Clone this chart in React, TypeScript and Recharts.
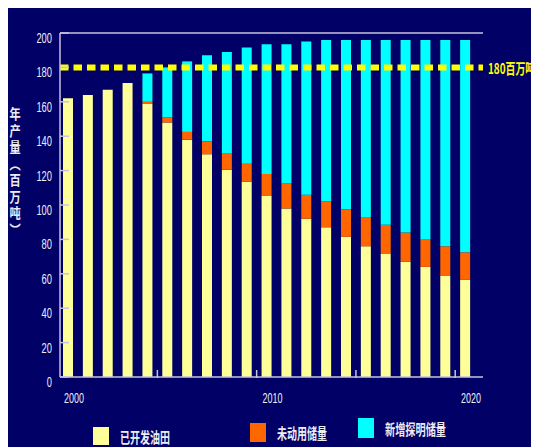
import { BarChart, Bar, XAxis, YAxis, ReferenceLine } from "recharts";

// Annual output, 2000-2020 (million tonnes), split by source
const years = [
	"2000", "2001", "2002", "2003", "2004", "2005", "2006", "2007", "2008", "2009", "2010",
	"2011", "2012", "2013", "2014", "2015", "2016", "2017", "2018", "2019", "2020",
];
const developed = [
	162, 164, 167, 171, 159, 148, 138, 129.5, 120.5, 113.5, 105.5,
	98, 92, 87, 81.5, 76, 71.5, 67, 64, 59, 56.5,
];
const undeveloped = [
	0, 0, 0, 0, 1, 3, 4.5, 7.5, 9.5, 10.5, 12.5,
	14.5, 14, 15, 16, 17, 17, 17, 16, 17, 16,
];
const newReserves = [
	0, 0, 0, 0, 16.5, 29, 41, 50, 59, 67.5, 75.5,
	81, 89, 94, 98.5, 103, 107.5, 112, 116, 120, 123.5,
];
const yTicks = [0, 20, 40, 60, 80, 100, 120, 140, 160, 180, 200];
const labeledYears = ["2000", "2010", "2020"];
const target = 180;
const targetLabel = "180百万吨";
const yTitle = "年产量（百万吨）";
const seriesNames = ["已开发油田", "未动用储量", "新增探明储量"];

const NAVY = "#000066";
const AXIS = "#c4c4dc";
const TEXT = "#ececf4";
const YELLOW = "#ffff99";
const ORANGE = "#ff6600";
const CYAN = "#00ffff";

const numFont = '"Liberation Sans", Arial, sans-serif';
const cjkFont = '"Noto Sans CJK SC", "Noto Sans", sans-serif';

const data = years.map((year, i) => ({
	year,
	developed: developed[i],
	undeveloped: undeveloped[i],
	newReserves: newReserves[i],
}));

function YTick(props: any) {
	const { x, y, payload } = props;
	const label = String(payload.value);
	return (
		<g>
			<line x1={x} x2={x + 9} y1={y} y2={y} stroke={AXIS} strokeWidth={1.5} />
			<text
				x={x - 8}
				y={y + 5}
				textAnchor="end"
				dominantBaseline="central"
				fill={TEXT}
				fontFamily={numFont}
				fontSize={14}
				textLength={label.length * 5.2}
				lengthAdjust="spacingAndGlyphs"
			>
				{label}
			</text>
		</g>
	);
}

function XTick(props: any) {
	const { x, y, payload, index } = props;
	const label = String(payload.value);
	return (
		<g>
			{index % 5 === 4 && (
				<line x1={x + 10} x2={x + 10} y1={y - 7} y2={y + 1} stroke={AXIS} strokeWidth={1.5} />
			)}
			{labeledYears.includes(label) && (
				<text
					x={x + 6}
					y={y + 21}
					textAnchor="middle"
					dominantBaseline="central"
					fill={TEXT}
					fontFamily={numFont}
					fontSize={14}
					textLength={20}
					lengthAdjust="spacingAndGlyphs"
				>
					{label}
				</text>
			)}
		</g>
	);
}

// narrow label to the right of the dashed target line
function TargetLabel(props: any) {
	const { viewBox } = props;
	const x = viewBox.x + viewBox.width + 5;
	return (
		<g transform={`translate(${x}, ${viewBox.y}) scale(0.66, 1)`}>
			<text
				x={0}
				y={0}
				dominantBaseline="central"
				fill="#ffff00"
				fontFamily={cjkFont}
				fontWeight="bold"
				fontSize={15}
			>
				{targetLabel}
			</text>
		</g>
	);
}

const legendItems = [
	{ name: seriesNames[0], color: YELLOW, x: 85, y: 419, h: 18, len: 50 },
	{ name: seriesNames[1], color: ORANGE, x: 242, y: 415, h: 19, len: 50 },
	{ name: seriesNames[2], color: CYAN, x: 350, y: 410, h: 20, len: 61 },
];

export default function App() {
	return (
		<div style={{ position: "relative", width: 531, height: 439, background: NAVY, overflow: "hidden" }}>
			<style>{"body { overflow: hidden; }"}</style>
			<BarChart
				width={531}
				height={439}
				data={data}
				barSize={10}
				margin={{ top: 25, right: 56, bottom: 40, left: 0 }}
			>
				<XAxis
					dataKey="year"
					height={30}
					interval={0}
					padding={{ left: -2, right: 8 }}
					axisLine={{ stroke: AXIS, strokeWidth: 1.5 }}
					tickLine={false}
					tickSize={0}
					tickMargin={0}
					tick={(p: any) => <XTick {...p} />}
				/>
				<YAxis
					domain={[0, 200]}
					ticks={yTicks}
					interval={0}
					width={52}
					axisLine={{ stroke: AXIS, strokeWidth: 1.5 }}
					tickLine={false}
					tickSize={0}
					tickMargin={0}
					tick={(p: any) => <YTick {...p} />}
				/>
				<YAxis
					yAxisId="frame"
					orientation="right"
					domain={[0, 200]}
					width={0}
					tick={false}
					tickLine={false}
					axisLine={{ stroke: AXIS, strokeWidth: 1.5 }}
				/>
				<Bar dataKey="developed" stackId="a" fill={YELLOW} isAnimationActive={false} />
				<Bar dataKey="undeveloped" stackId="a" fill={ORANGE} isAnimationActive={false} />
				<Bar dataKey="newReserves" stackId="a" fill={CYAN} isAnimationActive={false} />
				<ReferenceLine y={200} stroke={AXIS} strokeWidth={1.5} />
				<ReferenceLine
					y={target}
					stroke="#ffff00"
					strokeWidth={6}
					strokeDasharray="8.5 5"
					label={(p: any) => <TargetLabel {...p} />}
				/>
			</BarChart>

			{/* vertical axis title, characters stacked top to bottom */}
			<div
				style={{
					position: "absolute",
					left: 0,
					top: 99,
					writingMode: "vertical-rl",
					fontFamily: cjkFont,
					fontWeight: "bold",
					fontSize: 14,
					lineHeight: 1,
					letterSpacing: 2.5,
					color: TEXT,
					transform: "scaleX(0.8)",
				}}
			>
				{yTitle}
			</div>

			<svg width={531} height={439} style={{ position: "absolute", left: 0, top: 0, pointerEvents: "none" }}>
				{legendItems.map((item) => (
					<g key={item.name}>
						<rect x={item.x} y={item.y} width={16} height={item.h} fill={item.color} />
						<text
							x={item.x + 27}
							y={item.y + item.h / 2}
							dominantBaseline="central"
							fill={TEXT}
							fontFamily={cjkFont}
							fontWeight="bold"
							fontSize={15}
							textLength={item.len}
							lengthAdjust="spacingAndGlyphs"
						>
							{item.name}
						</text>
					</g>
				))}
			</svg>
		</div>
	);
}
